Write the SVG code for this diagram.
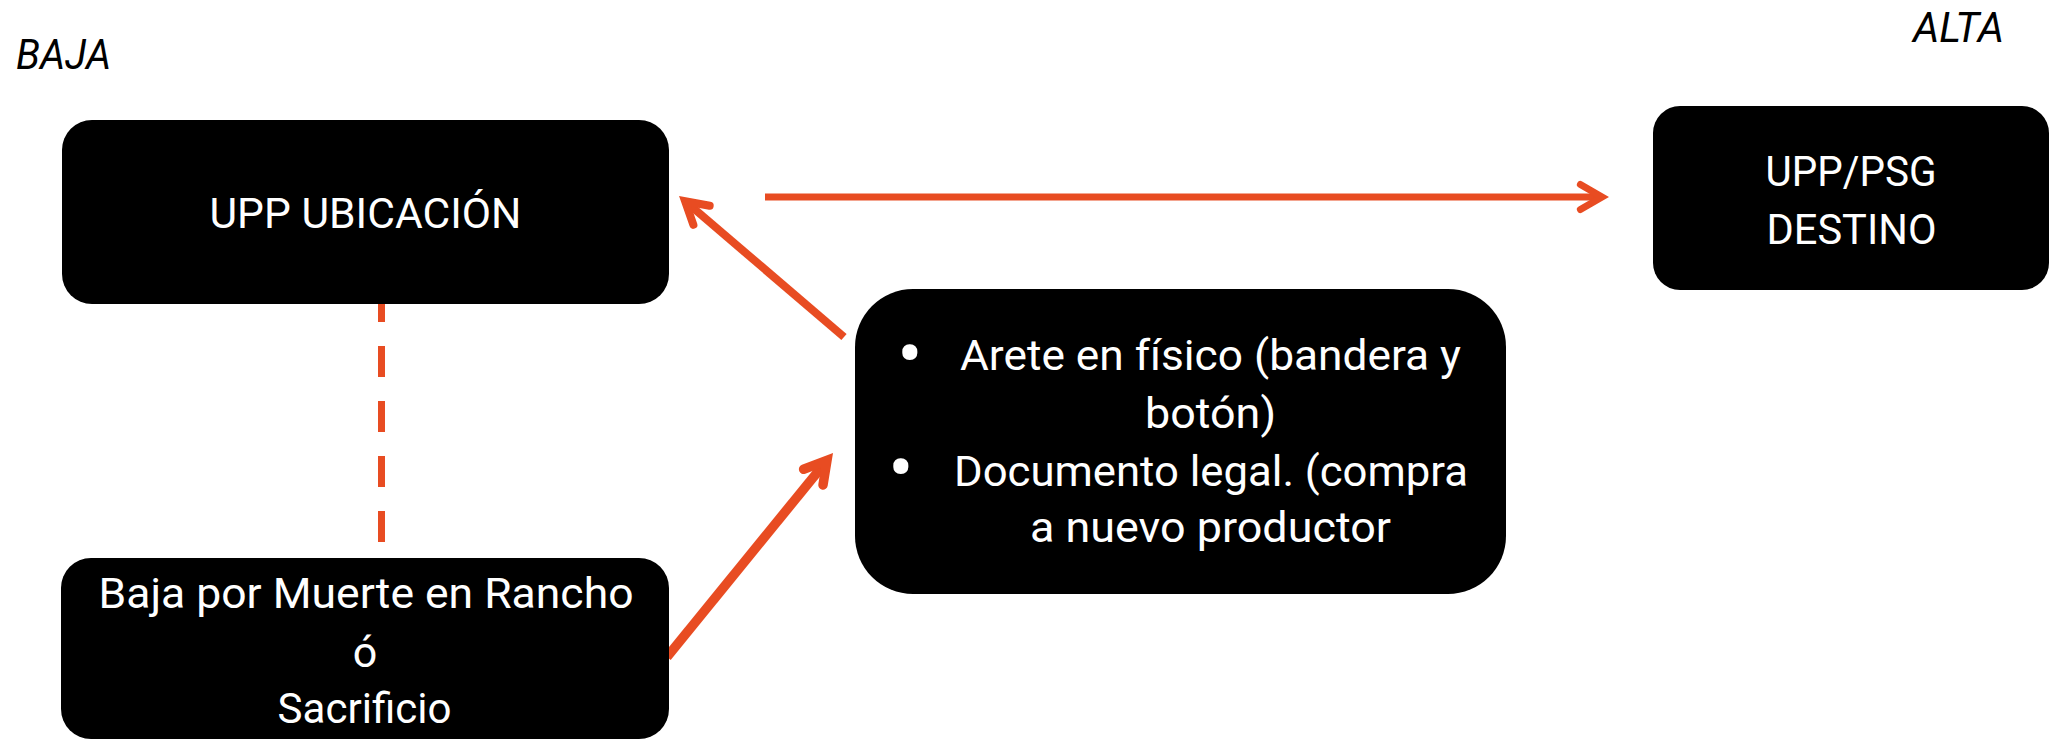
<svg xmlns="http://www.w3.org/2000/svg" width="2062" height="740" viewBox="0 0 2062 740">
  <style>
    .box { fill: #000000; }
    .t { font-family: Roboto, "Noto Sans", "DejaVu Sans", sans-serif; font-size: 43px; fill: #ffffff; }
    .mid { text-anchor: middle; }
    .lbl { font-family: Roboto, "Noto Sans", "DejaVu Sans", sans-serif; font-size: 42px; font-style: italic; fill: #000000; }
    .bul { font-family: Roboto, "Noto Sans", "DejaVu Sans", sans-serif; font-size: 75px; fill: #ffffff; text-anchor: middle; }
    .ln { fill: none; stroke: #E84C22; stroke-linecap: butt; }
    .head { fill: none; stroke: #E84C22; stroke-linecap: round; stroke-linejoin: miter; stroke-miterlimit: 10; }
  </style>
  <rect width="2062" height="740" fill="#ffffff"/>

  <g id="labels">
    <text class="lbl" x="16" y="69" textLength="95" lengthAdjust="spacingAndGlyphs">BAJA</text>
    <text class="lbl" x="1913" y="42" textLength="91" lengthAdjust="spacingAndGlyphs">ALTA</text>
  </g>

  <g id="connectors">
    <!-- dashed: UPP UBICACIÓN to Baja -->
    <line class="ln" x1="381.5" y1="304" x2="381.5" y2="545" stroke-width="7" stroke-dasharray="31 24" stroke-dashoffset="13"/>
    <!-- middle box to UPP UBICACIÓN -->
    <line class="ln" x1="844" y1="337" x2="685" y2="201" stroke-width="8"/>
    <path class="head" d="M709.7,205.8 L685.1,201.2 L693.4,224.8" stroke-width="8"/>
    <!-- horizontal to UPP/PSG DESTINO -->
    <line class="ln" x1="765" y1="197" x2="1602" y2="197" stroke-width="7"/>
    <path class="head" d="M1580.4,184.5 L1602,197 L1580.4,209.5" stroke-width="7"/>
    <!-- Baja to middle box -->
    <line class="ln" x1="667" y1="657" x2="827" y2="460.4" stroke-width="9.5"/>
    <path class="head" d="M803.6,469.3 L827,460.4 L823,485" stroke-width="9.5"/>
  </g>

  <g id="node-upp-ubicacion">
    <rect class="box" x="62" y="120" width="607" height="184" rx="30" ry="30"/>
    <text class="t mid" x="365.5" y="228" textLength="312" lengthAdjust="spacingAndGlyphs">UPP UBICACIÓN</text>
  </g>

  <g id="node-upp-psg-destino">
    <rect class="box" x="1653" y="106" width="396" height="184" rx="27" ry="27"/>
    <text class="t mid" x="1851" y="186" textLength="171" lengthAdjust="spacingAndGlyphs">UPP/PSG</text>
    <text class="t mid" x="1851.5" y="244" textLength="170" lengthAdjust="spacingAndGlyphs">DESTINO</text>
  </g>

  <g id="node-requisitos">
    <rect class="box" x="855" y="289" width="651" height="305" rx="58" ry="58"/>
    <text class="bul" x="910" y="379">•</text>
    <text class="t" x="960" y="370" textLength="501" lengthAdjust="spacingAndGlyphs">Arete en físico (bandera y</text>
    <text class="t" x="1145" y="428" textLength="131" lengthAdjust="spacingAndGlyphs">botón)</text>
    <text class="bul" x="901" y="493">•</text>
    <text class="t" x="954" y="485.5" textLength="514" lengthAdjust="spacingAndGlyphs">Documento legal. (compra</text>
    <text class="t" x="1030" y="542" textLength="361" lengthAdjust="spacingAndGlyphs">a nuevo productor</text>
  </g>

  <g id="node-baja-muerte">
    <rect class="box" x="61" y="558" width="608" height="181" rx="30" ry="30"/>
    <text class="t mid" x="366" y="608" textLength="535" lengthAdjust="spacingAndGlyphs">Baja por Muerte en Rancho</text>
    <text class="t mid" x="365" y="667">ó</text>
    <text class="t mid" x="364.5" y="723" textLength="174" lengthAdjust="spacingAndGlyphs">Sacrificio</text>
  </g>
</svg>
